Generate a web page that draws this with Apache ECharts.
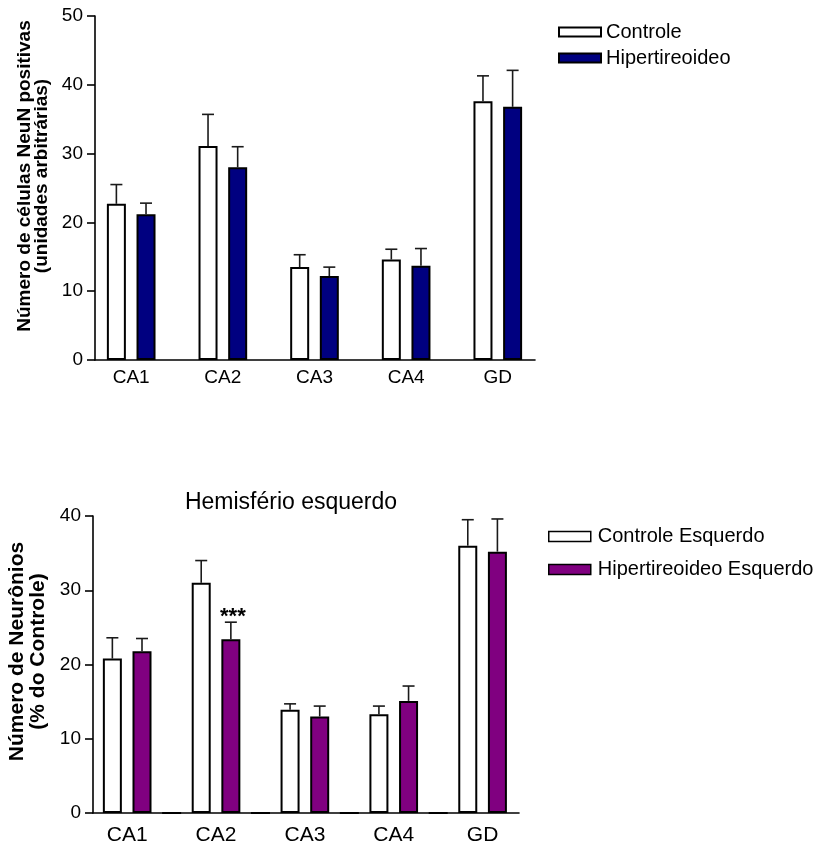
<!DOCTYPE html>
<html>
<head>
<meta charset="utf-8">
<script src="https://cdn.jsdelivr.net/npm/echarts@6/dist/echarts.min.js"></script>
<style>
  html, body { margin: 0; padding: 0; background: #fff; }
  #chart { width: 815px; height: 842px; }
</style>
</head>
<body>
<div id="chart"></div>
<script>
// Regions of the hippocampus
const categories = ['CA1', 'CA2', 'CA3', 'CA4', 'GD'];

// Upper panel: NeuN-positive cells (arbitrary units), mean and SEM
const topControle = [22.7, 31.1, 13.5, 14.6, 37.6];
const topControleErr = [2.8, 4.6, 1.8, 1.5, 3.7];
const topHiper = [21.2, 28.0, 12.2, 13.7, 36.8];
const topHiperErr = [1.6, 3.0, 1.3, 2.5, 5.3];
const topTicks = [0, 10, 20, 30, 40, 50];

// Lower panel: left hemisphere neuron counts (% of control), mean and SEM
const botControle = [20.8, 31.0, 13.9, 13.3, 36.0];
const botControleErr = [2.8, 3.0, 0.8, 1.1, 3.5];
const botHiper = [21.8, 23.4, 13.0, 15.1, 35.2];
const botHiperErr = [1.7, 2.3, 1.4, 2.0, 4.4];
const botEmpty = [0, 0, 0, 0, null];
const botSignif = ['', '***', '', '', ''];
const botTicks = [0, 10, 20, 30, 40];

const FONT = '"Liberation Sans", Arial, sans-serif';
const BAR_W = 19;
const GAP_RATIO = 0.56;
const SLOT = BAR_W * (1 + GAP_RATIO);

const pairs = (vals) => vals.map((v, i) => [i, v == null ? '-' : v]);
const triples = (vals, errs) => vals.map((v, i) => [i, v, errs[i]]);

function errorSeries(name, xi, vals, errs, offset, signif) {
  return {
    type: 'custom',
    name: name,
    xAxisIndex: xi,
    yAxisIndex: xi,
    z: 5,
    silent: true,
    data: triples(vals, errs),
    encode: { x: 0, y: 1 },
    renderItem: function (params, api) {
      const m = api.value(1), e = api.value(2), i = api.value(0);
      const base = api.coord([i, m]);
      const top = api.coord([i, m + e]);
      const x = base[0] + offset;
      const children = [
        { type: 'line', shape: { x1: x, y1: base[1], x2: x, y2: top[1] },
          style: { stroke: '#1a1a1a', lineWidth: 1.6 } },
        { type: 'line', shape: { x1: x - 6, y1: top[1], x2: x + 6, y2: top[1] },
          style: { stroke: '#1a1a1a', lineWidth: 1.6 } }
      ];
      const s = signif ? signif[params.dataIndex] : '';
      if (s) {
        children.push({ type: 'text', x: x + 2, y: top[1] + 6,
          style: { text: s, fill: '#000', font: 'bold 22px ' + FONT,
                   align: 'center', verticalAlign: 'bottom' } });
      }
      return { type: 'group', children: children };
    }
  };
}

function barSeries(name, xi, vals, color) {
  return {
    type: 'bar',
    name: name,
    xAxisIndex: xi,
    yAxisIndex: xi,
    data: pairs(vals),
    barWidth: BAR_W,
    barGap: (GAP_RATIO * 100) + '%',
    itemStyle: { color: color, borderColor: '#000', borderWidth: 2 },
    emphasis: { disabled: true },
    animation: false
  };
}

const axisLineStyle = { show: true, onZero: false, lineStyle: { color: '#000', width: 1.6 } };

function xAxisCfg(gi, min, max, fontSize, shiftLeft, margin) {
  return {
    type: 'value',
    gridIndex: gi,
    min: min,
    max: max,
    axisLine: axisLineStyle,
    axisTick: { show: false },
    splitLine: { show: false },
    axisLabel: {
      customValues: categories.map((c, i) => i),
      formatter: (v) => categories[Math.round(v)],
      color: '#000',
      fontFamily: FONT,
      fontSize: fontSize,
      margin: margin,
      padding: [0, shiftLeft * 2, 0, 0]
    }
  };
}

function yAxisCfg(gi, ticks, nameText, fontSize, lineHeight, nameGap, shiftUp) {
  return {
    type: 'value',
    gridIndex: gi,
    min: ticks[0],
    max: ticks[ticks.length - 1],
    interval: ticks[1] - ticks[0],
    axisLine: axisLineStyle,
    axisTick: { show: true, length: 8, lineStyle: { color: '#000', width: 1.6 } },
    splitLine: { show: false },
    axisLabel: { color: '#000', fontFamily: FONT, fontSize: 19, margin: 12 },
    name: nameText,
    nameLocation: 'middle',
    nameGap: nameGap,
    nameTextStyle: {
      color: '#000', fontFamily: FONT, fontWeight: 'bold',
      fontSize: fontSize, lineHeight: lineHeight,
      padding: [0, 0, 0, shiftUp * 2]
    }
  };
}

const chart = echarts.init(document.getElementById('chart'), null, { renderer: 'canvas' });

chart.setOption({
  backgroundColor: '#fff',
  animation: false,
  title: {
    text: 'Hemisfério esquerdo',
    left: 291,
    top: 491,
    padding: 0,
    textAlign: 'center',
    textStyle: { color: '#000', fontFamily: FONT, fontWeight: 'normal', fontSize: 23 }
  },
  legend: [
    {
      data: ['Controle', 'Hipertireoideo'],
      left: 558, top: 22,
      padding: 0,
      orient: 'vertical',
      icon: 'rect',
      itemWidth: 42, itemHeight: 9,
      itemGap: 6,
      selectedMode: false,
      textStyle: { color: '#000', fontFamily: FONT, fontSize: 20, lineHeight: 20 }
    },
    {
      data: ['Controle Esquerdo', 'Hipertireoideo Esquerdo'],
      left: 548, top: 526,
      padding: 0,
      orient: 'vertical',
      icon: 'rect',
      itemWidth: 42, itemHeight: 10,
      itemGap: 12,
      itemStyle: { borderColor: '#000', borderWidth: 1.5 },
      selectedMode: false,
      textStyle: { color: '#000', fontFamily: FONT, fontSize: 20, lineHeight: 21, padding: [0, 0, 0, 2] }
    }
  ],
  grid: [
    { left: 95, top: 16, width: 440, height: 344, outerBoundsMode: 'none' },
    { left: 93, top: 516, width: 426, height: 297, outerBoundsMode: 'none' }
  ],
  xAxis: [
    xAxisCfg(0, -0.395, 4.406, 19, 0, 8),
    xAxisCfg(1, -0.5515, 4.243, 21, SLOT / 2, 12)
  ],
  yAxis: [
    yAxisCfg(0, topTicks, 'Número de células NeuN positivas\n(unidades arbitrárias)', 19, 17, 41, 12),
    yAxisCfg(1, botTicks, 'Número de Neurônios\n(% do Controle)', 21, 21, 44, 13)
  ],
  series: [
    barSeries('Controle', 0, topControle, '#ffffff'),
    barSeries('Hipertireoideo', 0, topHiper, '#000080'),
    errorSeries('errTopC', 0, topControle, topControleErr, -SLOT / 2),
    errorSeries('errTopH', 0, topHiper, topHiperErr, SLOT / 2),

    barSeries('Controle Esquerdo', 1, botControle, '#ffffff'),
    barSeries('Hipertireoideo Esquerdo', 1, botHiper, '#800080'),
    barSeries('vazio', 1, botEmpty, '#ffffff'),
    errorSeries('errBotC', 1, botControle, botControleErr, -SLOT),
    errorSeries('errBotH', 1, botHiper, botHiperErr, 0, botSignif)
  ]
});
</script>
</body>
</html>
